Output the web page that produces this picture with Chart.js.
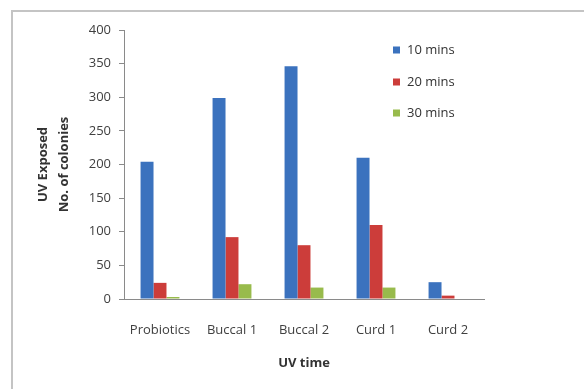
<!DOCTYPE html>
<html>
<head>
<meta charset="utf-8">
<script src="https://cdn.jsdelivr.net/npm/chart.js@4/dist/chart.umd.min.js"></script>
<style>
  html, body { margin: 0; padding: 0; background: #fff; }
  #wrap { position: relative; width: 584px; height: 389px; overflow: hidden; }
  #frame { position: absolute; left: 11px; top: 10px; width: 700px; height: 500px;
           border-left: 2px solid #c4c4c4; border-top: 2px solid #c4c4c4; }
  canvas { position: absolute; left: 0; top: 0; }
</style>
</head>
<body>
<div id="wrap">
  <div id="frame"></div>
  <canvas id="c" width="584" height="389"></canvas>
</div>
<script>
const categories = ["Probiotics", "Buccal 1", "Buccal 2", "Curd 1", "Curd 2"];
const seriesNames = ["10 mins", "20 mins", "30 mins"];
const mins10 = [204, 299, 346, 210, 25];
const mins20 = [24, 92, 80, 110, 5];
const mins30 = [3, 22, 17, 17, 0];
const yTicks = [0, 50, 100, 150, 200, 250, 300, 350, 400];
const xTitle = "UV time";
const yTitle = ["UV Exposed", "No. of colonies"];

const colors = ["#3b72be", "#cc3d3a", "#98bb4c"];
const FONT = "'Open Sans', Lato, sans-serif";

const legendPlugin = {
  id: 'customLegend',
  afterDraw(chart) {
    const ctx = chart.ctx;
    ctx.save();
    ctx.font = "13px " + FONT;
    ctx.textBaseline = "middle";
    ctx.textAlign = "left";
    const ys = [50, 82, 113];
    chart.data.datasets.forEach((ds, i) => {
      ctx.fillStyle = ds.backgroundColor;
      ctx.fillRect(393, ys[i] - 3.5, 7, 7);
      ctx.fillStyle = "#333";
      ctx.fillText(ds.label, 407, ys[i]);
    });
    ctx.restore();
  }
};

new Chart(document.getElementById('c'), {
  type: 'bar',
  data: {
    labels: categories,
    datasets: [
      { label: seriesNames[0], data: mins10, backgroundColor: colors[0] },
      { label: seriesNames[1], data: mins20, backgroundColor: colors[1] },
      { label: seriesNames[2], data: mins30, backgroundColor: colors[2] }
    ]
  },
  options: {
    responsive: false,
    animation: false,
    devicePixelRatio: 1,
    layout: { padding: { top: 30, right: 100, left: 0, bottom: 0 } },
    datasets: { bar: { categoryPercentage: 0.54, barPercentage: 1.0 } },
    plugins: { legend: { display: false }, tooltip: { enabled: false } },
    scales: {
      x: {
        grid: { display: false },
        border: { display: true, color: "#8a8a8a", width: 1 },
        ticks: { color: "#404040", font: { family: FONT, size: 13 }, padding: 15, maxRotation: 0 },
        title: { display: true, text: xTitle, color: "#333", font: { family: FONT, size: 13, weight: 'bold' }, padding: { top: 0, bottom: 18 } },
        afterFit(s) { s.height = 90; }
      },
      y: {
        min: 0, max: 400,
        afterBuildTicks(s) { s.ticks = yTicks.map(v => ({ value: v })); },
        grid: { display: true, drawOnChartArea: false, drawTicks: true, tickLength: 5, color: "#8a8a8a" },
        border: { display: true, color: "#8a8a8a", width: 1 },
        ticks: { color: "#404040", font: { family: FONT, size: 13 }, padding: 8 },
        title: { display: true, text: yTitle, color: "#333", font: { family: FONT, size: 13, weight: 'bold', lineHeight: 1.6 }, padding: { top: 33, bottom: 0 } },
        afterFit(s) { s.width = 124; }
      }
    }
  },
  plugins: [legendPlugin]
});
</script>
</body>
</html>
